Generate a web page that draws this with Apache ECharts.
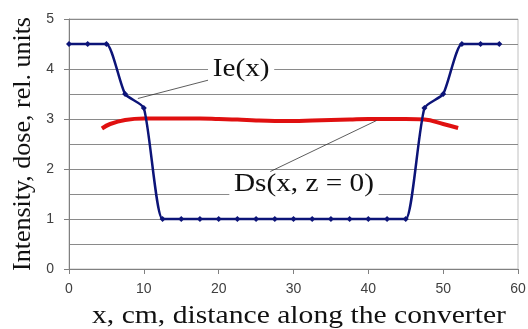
<!DOCTYPE html>
<html><head><meta charset="utf-8">
<script src="https://cdn.jsdelivr.net/npm/echarts@6/dist/echarts.min.js"></script>
<style>html,body{margin:0;padding:0;background:#fff}#c{width:528px;height:329px}</style>
</head><body><div id="c"></div>
<script>
// Ie(x): electron beam intensity, points every 2.5 cm
var ieX = [0,2.5,5,7.5,10,12.5,15,17.5,20,22.5,25,27.5,30,32.5,35,37.5,40,42.5,45,47.5,50,52.5,55,57.5];
var ieY = [4.5,4.5,4.5,3.5,3.22,1,1,1,1,1,1,1,1,1,1,1,1,1,1,3.22,3.5,4.5,4.5,4.5];
// Ds(x, z = 0): dose
var dsX = [4.4,5.5,7.5,10,12.5,15,17.5,20,22.5,25,27.5,30,32.5,35,37.5,40,42.5,45,47.5,50,52];
var dsY = [2.81,2.9,2.98,3.01,3.01,3.01,3.01,3.0,2.99,2.97,2.96,2.96,2.97,2.98,2.99,3.0,3.0,3.0,2.99,2.9,2.82];
var xTicks = [0,10,20,30,40,50,60];
var yTicks = [0,1,2,3,4,5];
var xTitle = 'x, cm, distance along the converter';
var yTitle = 'Intensity, dose, rel. units';
// annotation labels: [text, textX, textY, leaderFromX, leaderFromY, leaderToX, leaderToY]
var notes = [
  ['Ie(x)', 23.0, 3.99, 21.5, 3.89, 9.2, 3.41],
  ['Ds(x, z = 0)', 31.4, 1.69, 41.1, 2.97, 26.9, 1.95]
];

var chart = echarts.init(document.getElementById('c'), null, {renderer:'canvas'});
function pair(xs, ys){ return xs.map(function(x,i){return [x, ys[i]];}); }
var serifFont = '"Liberation Serif", "Times New Roman", serif';
var sans = '"Liberation Sans",Arial,sans-serif';
chart.setOption({
  animation:false,
  backgroundColor:'#fff',
  grid:{left:69, right:10, top:19, bottom:60, containLabel:false, outerBoundsMode:'none',
    show:true, borderColor:'#c0c0c0', borderWidth:1},
  xAxis:{type:'value', min:xTicks[0], max:xTicks[xTicks.length-1], interval:10,
    axisLine:{lineStyle:{color:'#808080', width:1}},
    axisTick:{show:true, length:5, lineStyle:{color:'#808080'}},
    axisLabel:{fontFamily:sans, fontSize:14, color:'#404040', margin:13},
    splitLine:{show:false}},
  yAxis:{type:'value', min:yTicks[0], max:yTicks[yTicks.length-1], interval:1,
    axisLine:{show:true, lineStyle:{color:'#808080', width:1}},
    axisTick:{show:true, length:5, lineStyle:{color:'#808080'}},
    axisLabel:{fontFamily:sans, fontSize:14, color:'#404040', margin:15},
    splitLine:{show:true, lineStyle:{color:'#8a8a8a', width:1}},
    minorTick:{show:false, splitNumber:2},
    minorSplitLine:{show:true, lineStyle:{color:'#8a8a8a', width:1}}},
  series:[
    {type:'line', data:pair(dsX, dsY), smooth:0.4, symbol:'none',
     lineStyle:{color:'#e01010', width:4}, z:3},
    {type:'line', data:pair(ieX, ieY), smooth:0.2, symbol:'diamond', symbolSize:6,
     itemStyle:{color:'#0c1478'}, lineStyle:{color:'#0c1478', width:2.5}, z:4}
  ]
});

var g = [];
notes.forEach(function(n){
  var t = chart.convertToPixel({gridIndex:0}, [n[1], n[2]]);
  var a = chart.convertToPixel({gridIndex:0}, [n[3], n[4]]);
  var b = chart.convertToPixel({gridIndex:0}, [n[5], n[6]]);
  g.push({type:'line', shape:{x1:a[0], y1:a[1], x2:b[0], y2:b[1]}, style:{stroke:'#333', lineWidth:0.8}, z:10});
  g.push({type:'text', x:t[0], y:t[1], scaleX:1.17, z:11,
    style:{text:n[0], font:'25px ' + serifFont, fill:'#111',
      align:'center', verticalAlign:'middle', backgroundColor:'#fff', padding:[0,4,0,4]}});
});
// axis titles
g.push({type:'text', x:299, y:316, scaleX:1.14, z:11,
  style:{text:xTitle, font:'26px ' + serifFont, fill:'#111', align:'center', verticalAlign:'middle'}});
g.push({type:'text', x:23, y:144, rotation:Math.PI/2, z:11,
  style:{text:yTitle, font:'26px ' + serifFont, fill:'#111', align:'center', verticalAlign:'middle'}});
chart.setOption({graphic:g});
</script></body></html>
